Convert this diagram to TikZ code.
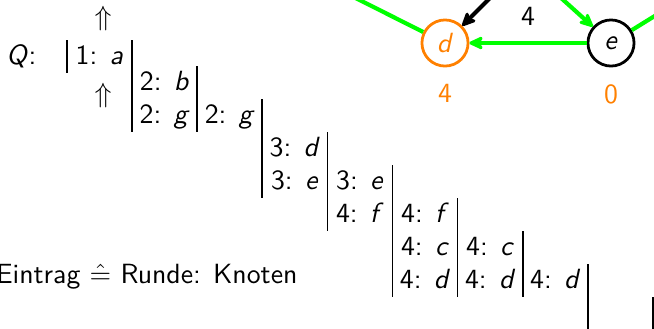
\documentclass[tikz,border=0pt]{standalone}
\usepackage{xcolor}
\usepackage{tikz}
\usetikzlibrary{arrows.meta,positioning}
\definecolor{treegreen}{RGB}{0,255,0}
\definecolor{distorange}{RGB}{255,128,0}

\begin{document}
\begin{tikzpicture}[
  x=0.36pt, y=-0.36pt,
  font=\sffamily,
  qbar/.style={draw,line width=0.6pt},
  qbox/.style={inner xsep=0pt,inner ysep=0pt,outer sep=0pt,minimum width=23.44pt,text height=8.8pt,text depth=3.08pt,
    append after command={(\tikzlastnode.north west) edge[qbar] (\tikzlastnode.south west)
      (\tikzlastnode.north east) edge[qbar] (\tikzlastnode.south east)}},
  plain/.style={inner sep=0pt},
  vertex/.style={circle,draw,line width=1pt,minimum size=16.6pt,inner sep=0pt},
  tree/.style={draw=treegreen,line width=1.5pt},
  arrow/.style={-{Stealth[round,length=6.5pt,width=6pt]}}
]
\useasboundingbox (0,0) rectangle (654,328);
\clip (0,0) rectangle (654,328);
% queue, one column per round
\node[qbox,anchor=north east] (q1a) at (132,40) {1: \textit{a}};
\node[plain,base left=10.8pt of q1a] (qname) {\textit{Q}:};
\node[plain,above=2.9pt of q1a,xshift=1.3pt] (head) {$\Uparrow$};
\node[plain,below=3.6pt of q1a,xshift=1.3pt] (tail) {$\Uparrow$};
\node[qbox,anchor=north west] (q2b) at (132,66) {2: \textit{b}};
\node[qbox,below=0pt of q2b] (q2g) {2: \textit{g}};
\node[qbox,right=0pt of q2g] (q3g) {2: \textit{g}};
\node[qbox,below right=0pt and 0pt of q3g] (q4d) {3: \textit{d}};
\node[qbox,below=0pt of q4d] (q4e) {3: \textit{e}};
\node[qbox,right=0pt of q4e] (q5e) {3: \textit{e}};
\node[qbox,below=0pt of q5e] (q5f) {4: \textit{f}};
\node[qbox,right=0pt of q5f] (q6f) {4: \textit{f}};
\node[qbox,below=0pt of q6f] (q6c) {4: \textit{c}};
\node[qbox,below=0pt of q6c] (q6d) {4: \textit{d}};
\node[qbox,right=0pt of q6c] (q7c) {4: \textit{c}};
\node[qbox,below=0pt of q7c] (q7d) {4: \textit{d}};
\node[qbox,right=0pt of q7d] (q8d) {4: \textit{d}};
\node[qbox,below right=0pt and 0pt of q8d] (q9) {};
\node[plain,anchor=base east] (legend) at (298,283) {Eintrag $\hat{=}$ Runde: Knoten};
% graph
\node[vertex,draw=distorange,text=distorange] (d) at (445,43) {\textit{d}};
\node[vertex] (e) at (611,43) {\textit{e}};
\node[plain,text=distorange,below=6pt of d] (dist-d) {4};
\node[plain,text=distorange,below=6pt of e] (dist-e) {0};
\coordinate (from-c) at (530,-42);
\coordinate (to-nw) at (300,-30);
\coordinate (from-ne) at (530,-30);
\coordinate (to-ne) at (700,-12);
\draw[tree,arrow] (e) -- node[plain,above=5.4pt] (w-ed) {4} (d);
\draw[line width=1.5pt,arrow] (from-c) -- (d);
\draw[tree] (d) -- (to-nw);
\draw[tree,arrow] (from-ne) -- (e);
\draw[tree] (e) -- (to-ne);
\end{tikzpicture}
\end{document}
